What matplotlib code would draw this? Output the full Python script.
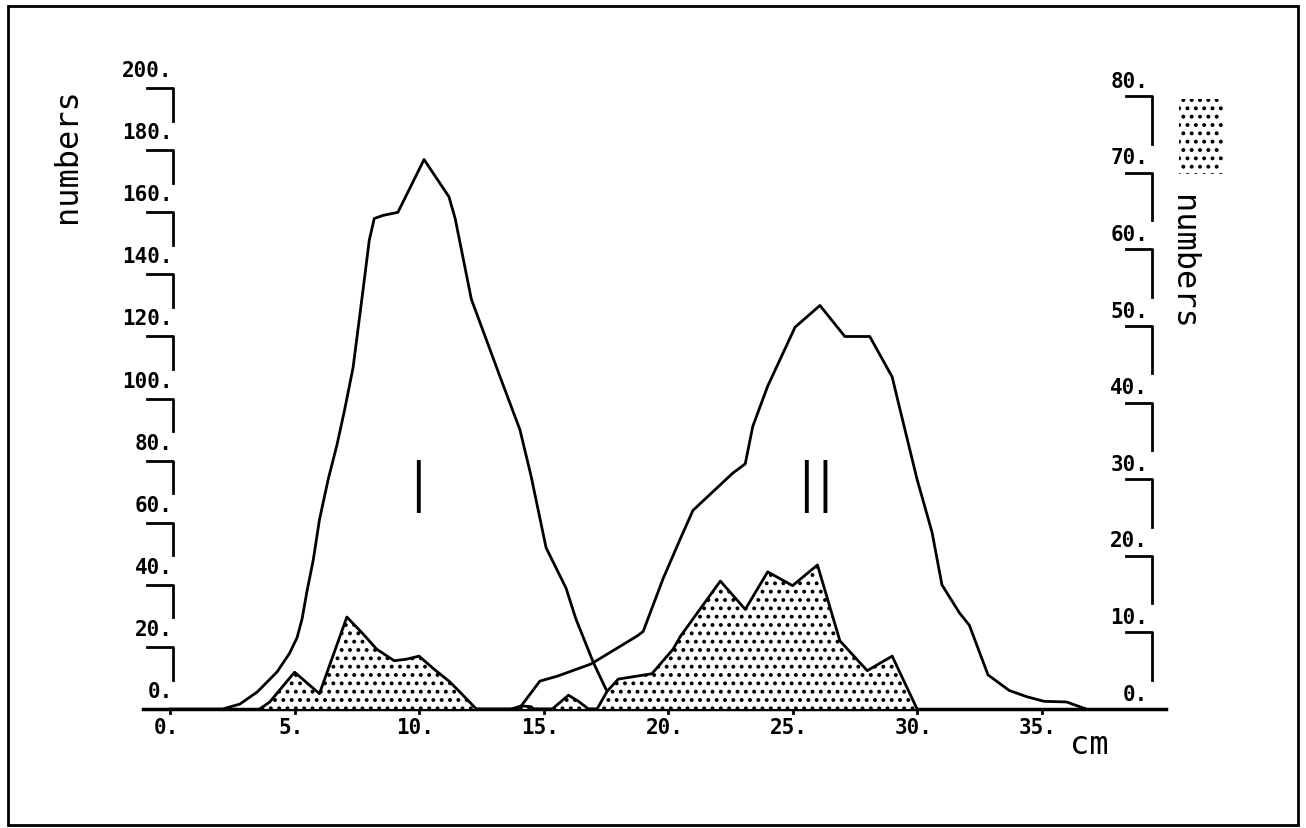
import matplotlib
matplotlib.use("Agg")
import matplotlib.pyplot as plt
from matplotlib.patches import Rectangle

# --- dados ---
# curva I (eixo esquerdo, numbers)
x_pico1 = [0, 2.1, 2.8, 3.5, 4.3, 4.8, 5.1, 5.3, 5.5, 5.75, 6.0, 6.35, 6.7, 7.0,
           7.35, 7.75, 8.0, 8.2, 8.55, 9.15, 10.2, 11.2, 11.45, 12.1, 13.3, 14.05,
           14.5, 15.1, 15.9, 16.3, 17.0, 17.5, 18.0]
y_pico1 = [0, 0, 1.6, 5.5, 12, 18, 23, 29, 38, 48, 61, 74, 85, 96,
           110, 135, 151, 158, 159, 160, 177, 165, 158, 132, 106, 90,
           75, 52, 39, 29, 15, 6.5, 0]

# curva II (eixo esquerdo)
x_pico2 = [13.7, 14.1, 14.85, 15.55, 16.9, 18.75, 19.0, 19.8, 20.5, 21.0, 22.6,
           23.1, 23.4, 24.0, 25.1, 26.1, 27.1, 28.1, 29.0, 29.3, 30.0, 30.6,
           31.0, 31.7, 32.1, 32.85, 33.7, 34.4, 35.1, 36.0, 36.8]
y_pico2 = [0, 1, 9, 10.6, 14.5, 23.5, 25, 42, 55, 64, 76,
           79, 91, 104, 123, 130, 120, 120, 107, 97, 74, 57,
           40, 31, 27, 11, 6, 4, 2.5, 2.3, 0]

# area pontilhada (eixo direito, numbers)
x_pont = [3.6, 4.0, 5.0, 6.0, 7.1, 7.75, 8.3, 9.0, 9.5, 10.0, 10.6, 11.25, 12.3,
          13.9, 14.1, 14.5, 14.6,
          15.35, 16.0, 16.4, 16.8,
          17.15, 17.55, 18.0, 19.35, 20.2, 20.5, 22.1, 23.1, 24.0, 25.0, 26.0,
          26.9, 28.0, 29.0, 30.0]
y_pont = [0, 0.9, 4.8, 2.0, 12.0, 9.8, 7.8, 6.3, 6.5, 6.9, 5.2, 3.5, 0,
          0, 0.4, 0.3, 0,
          0, 1.8, 1.0, 0,
          0, 2.3, 3.9, 4.6, 7.8, 9.5, 16.7, 13, 17.9, 16.1, 18.8,
          8.9, 5.0, 6.9, 0]

x_ticks = [0, 5, 10, 15, 20, 25, 30, 35]
esq_ticks = [0, 20, 40, 60, 80, 100, 120, 140, 160, 180, 200]
dir_ticks = [0, 10, 20, 30, 40, 50, 60, 70, 80]

MONO = "DejaVu Sans Mono"
plt.rcParams['hatch.linewidth'] = 1.6

fig = plt.figure(figsize=(13.06, 8.29), dpi=100)
ax = fig.add_axes([0, 0, 1, 1])
ax.set_xlim(-6.83, 45.62)
ax.set_ylim(-38.3, 228.7)
ax.axis('off')
ax2 = ax.twinx()
ax2.set_ylim(-15.54, 92.69)
ax2.axis('off')

# moldura externa
ax.add_patch(Rectangle((0.006, 0.004), 0.988, 0.988, transform=ax.transAxes,
                       fill=False, edgecolor='black', lw=2))

# area pontilhada
ax2.fill_between(x_pont, y_pont, 0, facecolor='white', edgecolor='black',
                 hatch='..', lw=0)
ax2.plot(x_pont, y_pont, color='black', lw=2)

# curvas
ax.plot(x_pico1, y_pico1, color='black', lw=2)
ax.plot(x_pico2, y_pico2, color='black', lw=2)

# eixo x
ax.plot([-1.1, 40.0], [0, 0], color='black', lw=2.5)
for t in x_ticks:
    ax.plot([t, t], [0, -1.4], color='black', lw=2)
    ax.text(t - 0.15, -5.8, f"{t}.", ha='center', va='center',
            family=MONO, fontsize=15, fontweight='bold')
ax.text(36.9, -11.3, "cm", ha='center', va='center', family=MONO, fontsize=23)

# eixo esquerdo com os colchetes
for v in esq_ticks:
    ax.text(0.1, v + 5.8, f"{v}.", ha='right', va='center',
            family=MONO, fontsize=15, fontweight='bold')
    if v > 0:
        ax.plot([-0.92, 0.12, 0.12], [v, v, v - 10.5], color='black', lw=2)
ax.text(-4.1, 178.7, "numbers", rotation=90, ha='center', va='center',
        family=MONO, fontsize=23)

# eixo direito
for w in dir_ticks:
    ax2.text(39.28, w + 2.0, f"{w}.", ha='right', va='center',
             family=MONO, fontsize=15, fontweight='bold')
    if w > 0:
        ax2.plot([38.4, 39.45, 39.45], [w, w, w - 6.2], color='black', lw=2)
ax2.text(40.68, 58.5, "numbers", rotation=-90, ha='center', va='center',
         family=MONO, fontsize=23)
ax2.add_patch(Rectangle((40.52, 69.8), 1.77, 9.8, facecolor='white',
                        edgecolor='black', hatch='..', lw=0))

# marcas dos picos I e II
ax.text(9.96, 70.0, "I", ha='center', va='center', family='Lato',
        fontsize=54, fontweight=300)
ax.text(25.95, 70.0, "II", ha='center', va='center', family='Lato',
        fontsize=54, fontweight=300)

fig.savefig("out.png", dpi=100)
